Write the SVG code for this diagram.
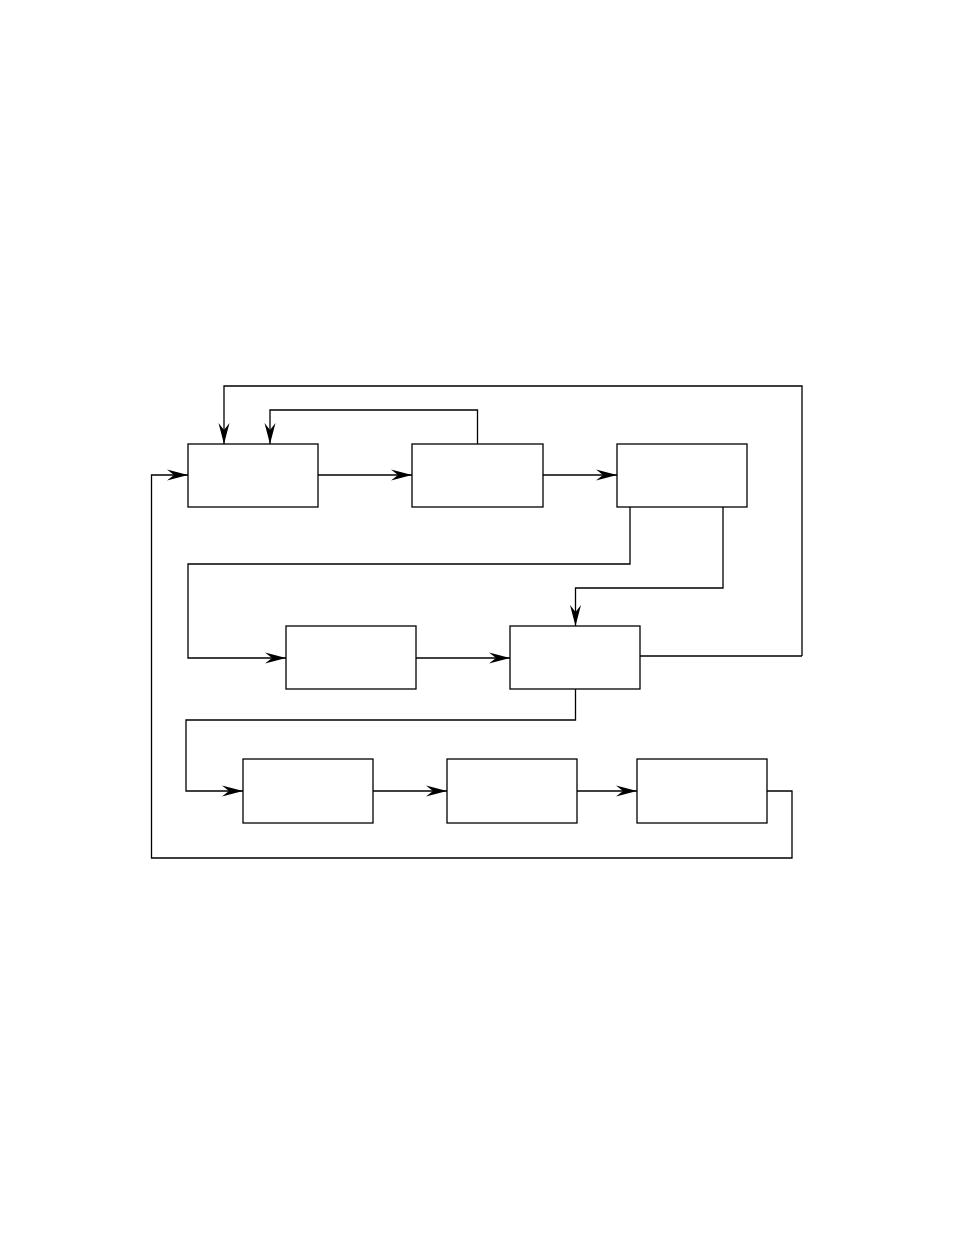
<svg xmlns="http://www.w3.org/2000/svg" width="954" height="1235" viewBox="0 0 954 1235">
<style>
.box{fill:#fff;stroke:#000;stroke-width:1.3}
.ln{fill:none;stroke:#000;stroke-width:1.3}
</style>
<defs>
<marker id="ah" markerUnits="userSpaceOnUse" markerWidth="24" markerHeight="14" viewBox="-22 -7 24 14" refX="0" refY="0" orient="auto">
<path d="M0,0 L-21,-5.5 L-14,0 L-21,5.5 Z" fill="#000"/>
</marker>
</defs>
<rect width="954" height="1235" fill="#fff"/>
<g id="connectors">
<path class="ln" d="M802,656 V386 H224 V444" marker-end="url(#ah)"/>
<path class="ln" d="M477.5,444 V410 H270 V444" marker-end="url(#ah)"/>
<path class="ln" d="M318,475 H412" marker-end="url(#ah)"/>
<path class="ln" d="M543,475 H617" marker-end="url(#ah)"/>
<path class="ln" d="M630,507 V564 H188 V658 H286" marker-end="url(#ah)"/>
<path class="ln" d="M723,507 V588 H575.5 V626" marker-end="url(#ah)"/>
<path class="ln" d="M416,658 H510" marker-end="url(#ah)"/>
<path class="ln" d="M640,656 H802"/>
<path class="ln" d="M575.5,689 V720 H186 V791 H243" marker-end="url(#ah)"/>
<path class="ln" d="M373,791 H447" marker-end="url(#ah)"/>
<path class="ln" d="M577,791 H637" marker-end="url(#ah)"/>
<path class="ln" d="M767,791 H792 V858 H151.5 V475 H188" marker-end="url(#ah)"/>
</g>
<g id="nA"><rect class="box" x="188" y="444" width="130" height="63"/></g>
<g id="nB"><rect class="box" x="412" y="444" width="131" height="63"/></g>
<g id="nC"><rect class="box" x="617" y="444" width="130" height="63"/></g>
<g id="nD"><rect class="box" x="286" y="626" width="130" height="63"/></g>
<g id="nE"><rect class="box" x="510" y="626" width="130" height="63"/></g>
<g id="nF"><rect class="box" x="243" y="759" width="130" height="64"/></g>
<g id="nG"><rect class="box" x="447" y="759" width="130" height="64"/></g>
<g id="nH"><rect class="box" x="637" y="759" width="130" height="64"/></g>
</svg>
